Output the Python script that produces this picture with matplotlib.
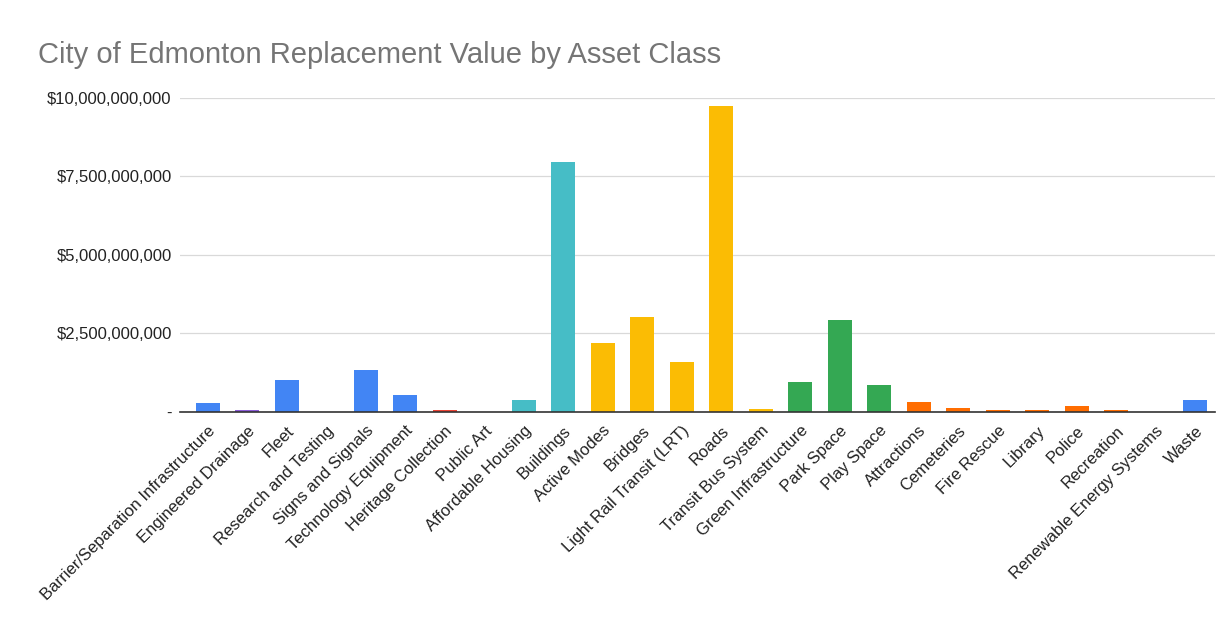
import matplotlib
matplotlib.use('Agg')
import matplotlib.pyplot as plt
from matplotlib.ticker import FuncFormatter

plt.rcParams['font.family'] = ['Liberation Sans', 'DejaVu Sans']

categories = [
    'Barrier/Separation Infrastructure', 'Engineered Drainage', 'Fleet',
    'Research and Testing', 'Signs and Signals', 'Technology Equipment',
    'Heritage Collection', 'Public Art', 'Affordable Housing', 'Buildings',
    'Active Modes', 'Bridges', 'Light Rail Transit (LRT)', 'Roads',
    'Transit Bus System', 'Green Infrastructure', 'Park Space', 'Play Space',
    'Attractions', 'Cemeteries', 'Fire Rescue', 'Library', 'Police',
    'Recreation', 'Renewable Energy Systems', 'Waste',
]

# replacement value, billions of dollars
values_bn = [
    0.30, 0.05, 1.02, 0.0, 1.34, 0.54,
    0.05, 0.0, 0.38, 7.95,
    2.20, 3.03, 1.60, 9.73,
    0.08, 0.96, 2.93, 0.86,
    0.32, 0.12, 0.05, 0.05, 0.19,
    0.05, 0.0, 0.38,
]

groups = [
    'blue', 'purple', 'blue', 'blue', 'blue', 'blue',
    'red', 'red', 'teal', 'teal',
    'yellow', 'yellow', 'yellow', 'yellow',
    'yellow', 'green', 'green', 'green',
    'orange', 'orange', 'orange', 'orange', 'orange',
    'orange', 'orange', 'blue',
]

palette = {
    'blue': '#4285f4',
    'purple': '#8b5cd6',
    'red': '#ea4335',
    'teal': '#46bdc6',
    'yellow': '#fbbc04',
    'green': '#34a853',
    'orange': '#ff6d01',
}

yticks = [0, 2.5e9, 5e9, 7.5e9, 1e10]

fig = plt.figure(figsize=(12.25, 6.35), dpi=100)
ax = fig.add_axes([180 / 1225, 1 - 412 / 635, 1035 / 1225, 314.5 / 635])

xs = range(len(categories))
ax.bar(xs, [v * 1e9 for v in values_bn], width=0.61,
       color=[palette[g] for g in groups], zorder=3)

ax.set_ylim(0, 1e10)
ax.set_xlim(-0.7, len(categories) - 0.5)
ax.set_yticks(yticks)
ax.yaxis.set_major_formatter(FuncFormatter(
    lambda v, pos: '-' if v == 0 else '${:,.0f}'.format(v)))
ax.grid(axis='y', color='#d9d9d9', lw=0.9, zorder=0)
ax.tick_params(axis='y', length=0, pad=6, labelsize=12, labelcolor='#222222')
ax.tick_params(axis='x', length=0, pad=8, labelsize=12, labelcolor='#222222')

ax.set_xticks(list(xs))
ax.set_xticklabels(categories, rotation=45, ha='right', rotation_mode='anchor')

for side in ['top', 'right', 'left']:
    ax.spines[side].set_visible(False)
ax.spines['bottom'].set_color('#333333')
ax.spines['bottom'].set_linewidth(1.2)
ax.spines['bottom'].set_zorder(4)

fig.text(38 / 1225, 1 - 55 / 635, 'City of Edmonton Replacement Value by Asset Class',
         fontsize=21, color='#757575', va='center', ha='left')

fig.savefig('out.png', dpi=100, facecolor='white')
